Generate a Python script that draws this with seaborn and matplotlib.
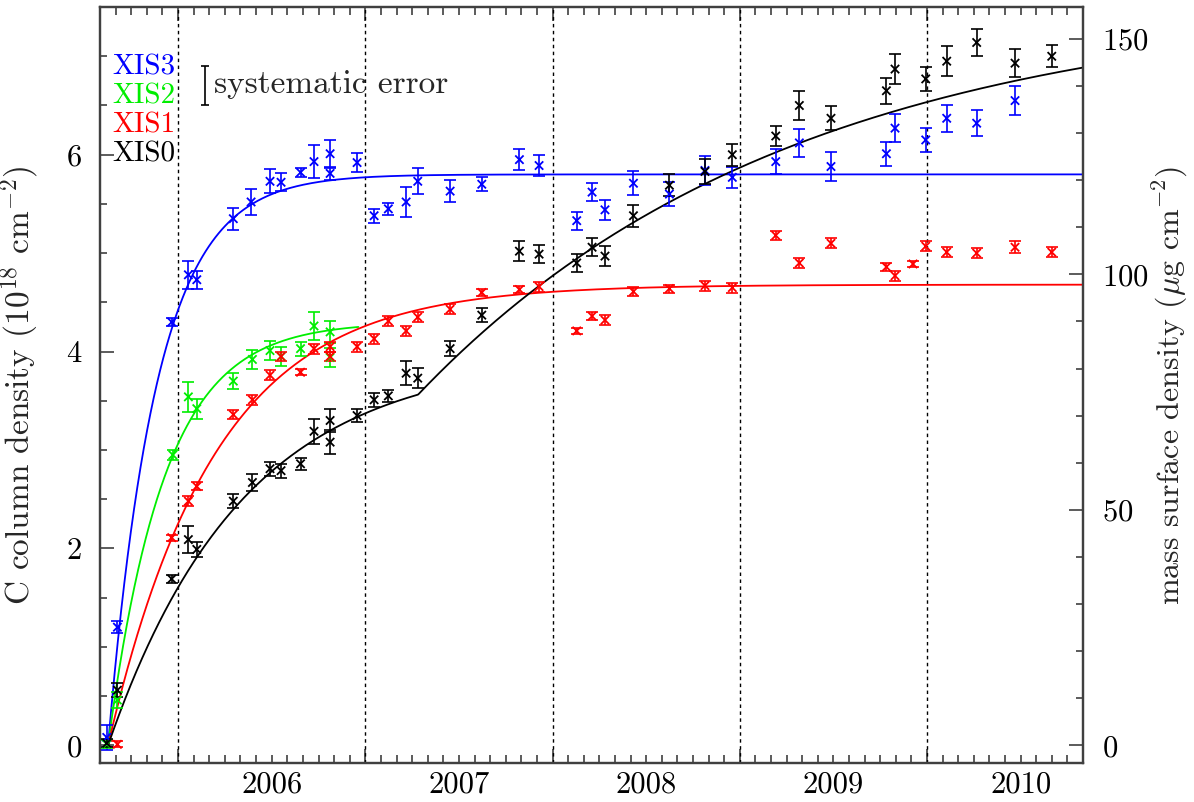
import numpy as np
import pandas as pd
import matplotlib
matplotlib.use("Agg")
import matplotlib.pyplot as plt
import seaborn as sns
from matplotlib.ticker import MultipleLocator

# ---------------------------------------------------------------------------
# Measured carbon column densities (1e18 cm^-2) versus time (decimal year)
# ---------------------------------------------------------------------------
xis3_t = [2005.619, 2005.676, 2005.966, 2006.055, 2006.100, 2006.295, 2006.390,
          2006.491, 2006.550, 2006.654, 2006.726, 2006.812, 2006.812, 2006.956,
          2007.047, 2007.123, 2007.218, 2007.280, 2007.453, 2007.622, 2007.823,
          2007.928, 2008.129, 2008.211, 2008.280, 2008.432, 2008.624, 2008.814,
          2008.960, 2009.192, 2009.318, 2009.487, 2009.783, 2009.829, 2009.993,
          2010.105, 2010.265, 2010.470]
xis3_v = [0.08, 1.20, 4.30, 4.78, 4.73, 5.35, 5.52, 5.73, 5.72, 5.82, 5.93, 6.01,
          5.81, 5.92, 5.38, 5.45, 5.52, 5.73, 5.63, 5.70, 5.95, 5.89, 5.33, 5.62,
          5.44, 5.71, 5.60, 5.84, 5.77, 5.93, 6.12, 5.88, 6.01, 6.27, 6.15, 6.37,
          6.32, 6.55]
xis3_e = [0.13, 0.06, 0.04, 0.14, 0.09, 0.11, 0.13, 0.12, 0.09, 0.05, 0.17, 0.14,
          0.07, 0.10, 0.07, 0.06, 0.15, 0.13, 0.11, 0.07, 0.11, 0.11, 0.09, 0.09,
          0.10, 0.12, 0.12, 0.15, 0.11, 0.13, 0.14, 0.15, 0.12, 0.14, 0.12, 0.14,
          0.13, 0.15]

xis2_t = [2005.619, 2005.676, 2005.972, 2006.055, 2006.100, 2006.295, 2006.397,
          2006.491, 2006.550, 2006.654, 2006.726, 2006.812, 2006.812]
xis2_v = [0.01, 0.46, 2.95, 3.54, 3.42, 3.70, 3.92, 4.01, 3.95, 4.03, 4.26, 4.20, 3.94]
xis2_e = [0.04, 0.08, 0.05, 0.15, 0.10, 0.08, 0.10, 0.10, 0.10, 0.07, 0.14, 0.11, 0.10]

xis1_t = [2005.676, 2005.966, 2006.055, 2006.100, 2006.295, 2006.397, 2006.491,
          2006.550, 2006.654, 2006.726, 2006.812, 2006.812, 2006.956, 2007.047,
          2007.123, 2007.218, 2007.280, 2007.453, 2007.622, 2007.823, 2007.928,
          2008.129, 2008.211, 2008.280, 2008.432, 2008.624, 2008.814, 2008.960,
          2009.192, 2009.318, 2009.487, 2009.783, 2009.829, 2009.925, 2009.993,
          2010.105, 2010.265, 2010.470, 2010.666]
xis1_v = [0.01, 2.11, 2.48, 2.63, 3.36, 3.51, 3.76, 3.95, 3.79, 4.03, 4.05, 3.95,
          4.05, 4.13, 4.31, 4.21, 4.35, 4.43, 4.60, 4.63, 4.66, 4.21, 4.36, 4.32,
          4.61, 4.64, 4.67, 4.65, 5.18, 4.90, 5.10, 4.86, 4.77, 4.89, 5.07, 5.01,
          5.00, 5.06, 5.01]
xis1_e = [0.03, 0.03, 0.05, 0.04, 0.05, 0.05, 0.05, 0.05, 0.03, 0.05, 0.05, 0.05,
          0.05, 0.05, 0.05, 0.05, 0.05, 0.05, 0.04, 0.04, 0.05, 0.03, 0.04, 0.05,
          0.05, 0.04, 0.05, 0.05, 0.05, 0.05, 0.05, 0.04, 0.05, 0.03, 0.05, 0.05,
          0.05, 0.06, 0.05]

xis0_t = [2005.619, 2005.676, 2005.966, 2006.055, 2006.100, 2006.295, 2006.397,
          2006.491, 2006.550, 2006.654, 2006.726, 2006.812, 2006.812, 2006.956,
          2007.047, 2007.123, 2007.218, 2007.280, 2007.453, 2007.622, 2007.823,
          2007.928, 2008.129, 2008.211, 2008.280, 2008.432, 2008.624, 2008.814,
          2008.960, 2009.192, 2009.318, 2009.487, 2009.783, 2009.829, 2009.993,
          2010.105, 2010.265, 2010.470, 2010.666]
xis0_v = [0.02, 0.56, 1.69, 2.09, 1.99, 2.48, 2.67, 2.81, 2.79, 2.86, 3.19, 3.30,
          3.08, 3.35, 3.51, 3.55, 3.78, 3.73, 4.03, 4.37, 5.02, 4.99, 4.90, 5.06,
          4.97, 5.38, 5.69, 5.83, 6.00, 6.19, 6.50, 6.37, 6.65, 6.87, 6.77, 6.95,
          7.14, 6.93, 7.00]
xis0_e = [0.04, 0.07, 0.04, 0.14, 0.08, 0.07, 0.09, 0.07, 0.07, 0.06, 0.13, 0.12,
          0.12, 0.07, 0.07, 0.06, 0.12, 0.10, 0.08, 0.07, 0.10, 0.09, 0.09, 0.09,
          0.10, 0.11, 0.11, 0.13, 0.11, 0.10, 0.15, 0.12, 0.13, 0.15, 0.12, 0.15,
          0.14, 0.14, 0.11]

# Contamination model: C(t) = A * (1 - exp(-(t - t0) / tau))
model_t0 = 2005.626
sat_amp = {"XIS3": 5.80, "XIS2": 4.30, "XIS1": 4.68}
sat_tau = {"XIS3": 0.26, "XIS2": 0.30, "XIS1": 0.57}
model_end = {"XIS3": 2010.833, "XIS2": 2006.963, "XIS1": 2010.833}
# XIS0: two-stage model, second growth phase starting at xis0_break
xis0_amp = [3.96, 4.00]
xis0_tau = [0.72, 2.00]
xis0_break = 2007.282
xis0_end = 2010.833

# Systematic-error bar (half length, 1e18 cm^-2)
sys_err = 0.20

labels = ["XIS3", "XIS2", "XIS1", "XIS0"]
colors = {"XIS3": "#0000ff", "XIS2": "#00ee00", "XIS1": "#ff0000", "XIS0": "#000000"}
year_marks = [2006, 2007, 2008, 2009, 2010]
year_labels = ["2006", "2007", "2008", "2009", "2010"]
to_mass = 20.9  # ug cm^-2 per 1e18 C atoms cm^-2

# ---------------------------------------------------------------------------
sns.set_theme(style="ticks")
plt.rcParams.update({
    "font.family": "serif",
    "font.serif": ["cmr10"],
    "mathtext.fontset": "cm",
    "axes.formatter.use_mathtext": True,
    "xtick.direction": "in",
    "ytick.direction": "in",
    "axes.edgecolor": "#404040",
    "axes.linewidth": 1.6,
    "xtick.color": "#404040",
    "ytick.color": "#404040",
    "xtick.labelcolor": "black",
    "ytick.labelcolor": "black",
})

series = {
    "XIS3": (xis3_t, xis3_v, xis3_e),
    "XIS2": (xis2_t, xis2_v, xis2_e),
    "XIS1": (xis1_t, xis1_v, xis1_e),
    "XIS0": (xis0_t, xis0_v, xis0_e),
}
points = pd.concat(
    [pd.DataFrame({"t": t, "v": v, "e": e, "det": k}) for k, (t, v, e) in series.items()],
    ignore_index=True,
)

# model curves
curves = []
for k in ["XIS3", "XIS2", "XIS1"]:
    tt = np.linspace(model_t0, model_end[k], 600)
    curves.append(pd.DataFrame({"t": tt, "v": sat_amp[k] * (1 - np.exp(-(tt - model_t0) / sat_tau[k])), "det": k}))
tt = np.linspace(model_t0, xis0_end, 1200)
stage1 = xis0_amp[0] * (1 - np.exp(-(np.minimum(tt, xis0_break) - model_t0) / xis0_tau[0]))
stage2 = xis0_amp[1] * (1 - np.exp(-np.clip(tt - xis0_break, 0, None) / xis0_tau[1]))
curves.append(pd.DataFrame({"t": tt, "v": stage1 + stage2, "det": "XIS0"}))
curves = pd.concat(curves, ignore_index=True)

fig = plt.figure(figsize=(11.94, 8.02), dpi=100)
ax = fig.add_axes([0.08375, 0.0486, 0.8233, 0.9426])

for yr in year_marks:
    ax.axvline(yr, color="black", lw=1.0, ls=(0, (2.5, 2.5)), zorder=1)

sns.lineplot(data=curves, x="t", y="v", hue="det", palette=colors, hue_order=labels,
             legend=False, lw=1.3, sort=False, estimator=None, ax=ax, zorder=3)

for k in labels:
    d = points[points.det == k]
    ax.errorbar(d.t, d.v, yerr=d.e, fmt="none", ecolor=colors[k], elinewidth=1.2,
                capsize=4, capthick=1.2, zorder=4)
sns.scatterplot(data=points, x="t", y="v", hue="det", palette=colors, hue_order=labels,
                marker="x", s=36, linewidth=1.3, legend=False, ax=ax, zorder=5)

# axes ranges and ticks
ax.set_xlim(2005.583, 2010.833)
ax.set_ylim(-0.18, 7.5)
ax.set_xticks(year_marks)
ax.set_xticklabels([])
ax.xaxis.set_minor_locator(MultipleLocator(1 / 12))
ax.set_yticks([0, 2, 4, 6])
ax.yaxis.set_minor_locator(MultipleLocator(0.5))
ax.tick_params(axis="x", which="major", length=10, width=1.2, top=True, bottom=True)
ax.tick_params(axis="x", which="minor", length=6, width=1.2, top=True, bottom=True)
ax.tick_params(axis="y", which="major", length=10, width=1.2, labelsize=22, pad=13, right=False)
ax.tick_params(axis="y", which="minor", length=5, width=1.2, right=False)
ax.set_xlabel("")
ax.set_ylabel(r"C column density (10$^{18}$ cm$^{-2}$)", fontsize=24)
ax.yaxis.set_label_coords(-0.060, 0.5)

# year labels centred in each year
sec = ax.secondary_xaxis("bottom")
sec.set_xticks([y + 0.5 for y in year_marks], year_labels)
sec.tick_params(length=0, labelsize=22, pad=6)
sec.spines["bottom"].set_visible(False)

# mass surface density axis
ax2 = ax.twinx()
ax2.set_ylim(-0.18 * to_mass, 7.5 * to_mass)
ax2.set_yticks([0, 50, 100, 150])
ax2.yaxis.set_minor_locator(MultipleLocator(10))
ax2.tick_params(axis="y", which="major", length=10, width=1.2, labelsize=22, pad=14)
ax2.tick_params(axis="y", which="minor", length=5, width=1.2)
ax2.set_ylabel(r"mass surface density ($\mu$g cm$^{-2}$)", fontsize=23, rotation=90)
ax2.yaxis.set_label_coords(1.069, 0.5)
ax2.grid(False)

# detector labels
for i, k in enumerate(labels):
    ax.text(0.0763, 0.9206 - i * 0.0385, k, color=colors[k], fontsize=21,
            ha="right", va="center", transform=ax.transAxes)

# systematic error bar
ax.errorbar([2006.144], [6.70], yerr=[sys_err], fmt="none", ecolor="black",
            elinewidth=1.2, capsize=3, capthick=1.2)
ax.text(2006.19, 6.63, "systematic error", fontsize=24, ha="left", va="baseline")

fig.savefig("out.png", dpi=100)
